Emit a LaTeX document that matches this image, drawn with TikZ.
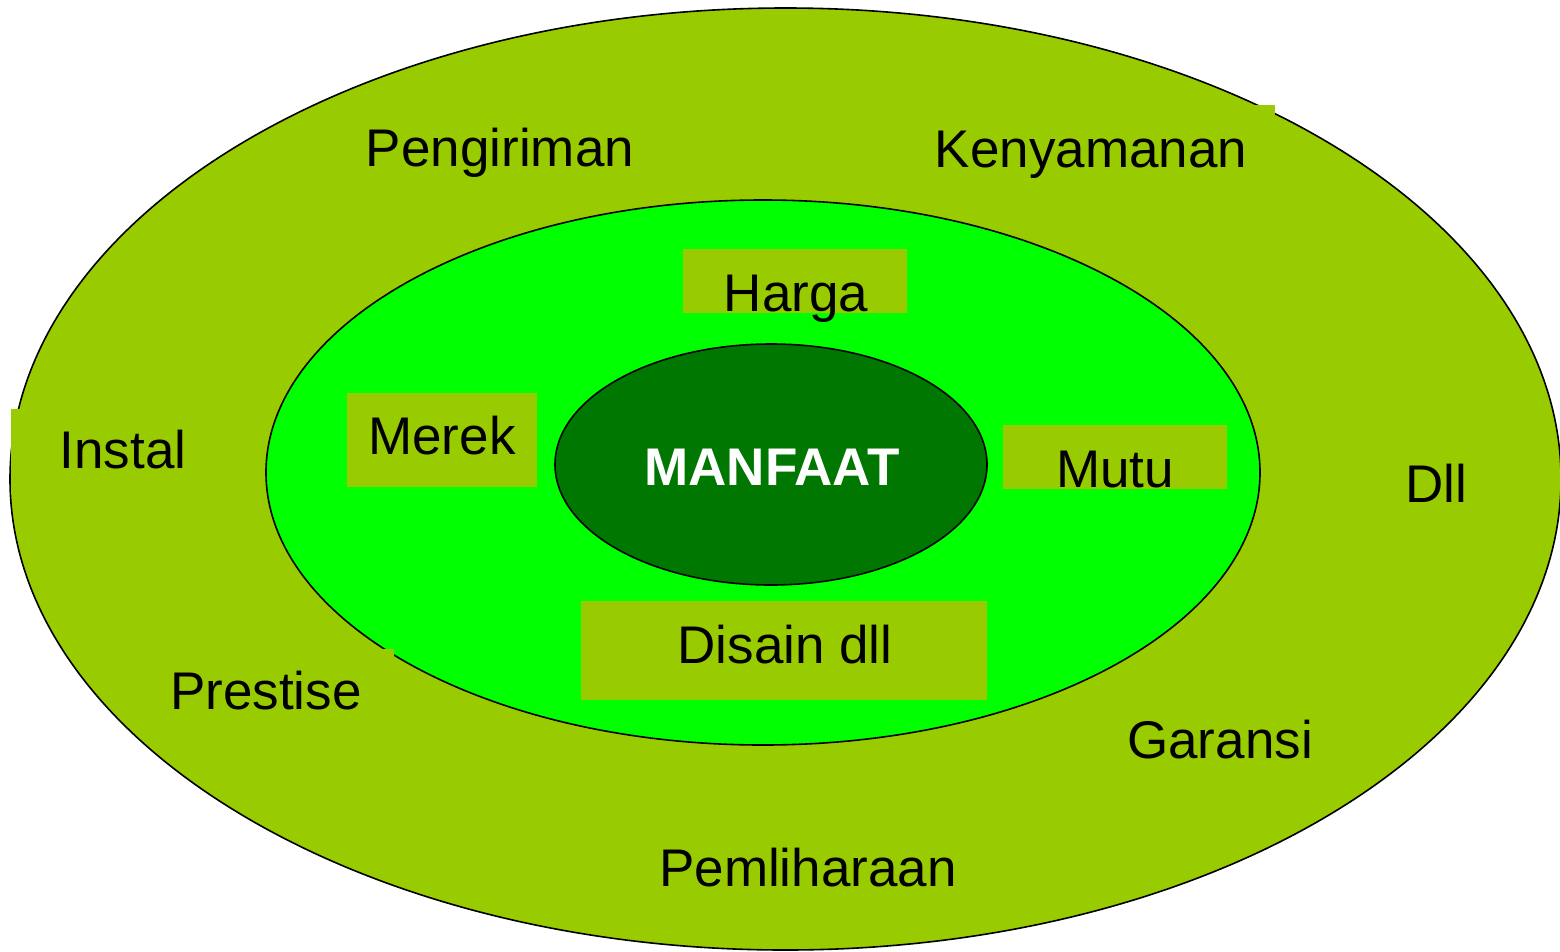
\documentclass[tikz,border=0pt]{standalone}
\usepackage{fontspec}
\setmainfont{Liberation Sans}
\usetikzlibrary{shapes.geometric}
\definecolor{olivefill}{HTML}{99CC00}
\definecolor{limefill}{HTML}{00FF00}
\definecolor{darkfill}{HTML}{007700}
\begin{document}
\begin{tikzpicture}[x=1pt,y=-1pt,
  ring/.style={ellipse,draw=black,line width=1.6pt,inner sep=0pt,outer sep=0pt},
  lbl/.style={anchor=base,font=\fontsize{53}{60}\selectfont,inner sep=0pt,text=black},
  patch/.style={fill=olivefill,draw=none}]
\useasboundingbox (0,0) rectangle (1560,951);
\clip (0,0) rectangle (1560,951);
\fill[white] (0,0) rectangle (1560,951);
% ellipses
\node[ring,fill=olivefill,minimum width=1551pt,minimum height=942pt] (outer) at (785.5,479) {};
\node[ring,fill=limefill,minimum width=994pt,minimum height=545pt] (inner) at (763,472.5) {};
\node[ring,fill=darkfill,minimum width=432pt,minimum height=241pt] (core) at (771,464.5) {};
% outer label patches
\fill[patch] (925,105) rectangle (1275,190);
\fill[patch] (11,409) rectangle (200,495);
\fill[patch] (160,649) rectangle (394,725);
% inner label boxes
\fill[patch] (683,249) rectangle (907,313);
\fill[patch] (347,393) rectangle (537,487);
\fill[patch] (1003,425) rectangle (1227,489);
\fill[patch] (581,601) rectangle (987,700);
% texts
\node[lbl,text=white,font=\fontsize{53}{60}\selectfont\bfseries] (manfaat) at (772,485) {MANFAAT};
\node[lbl] (harga) at (796,311) {Harga};
\node[lbl] (merek) at (442,454) {Merek};
\node[lbl] (mutu) at (1115,487) {Mutu};
\node[lbl] (disain) at (785,663) {Disain dll};
\node[lbl] (pengiriman) at (500,166) {Pengiriman};
\node[lbl] (kenyamanan) at (1091,167) {Kenyamanan};
\node[lbl] (instal) at (123,468) {Instal};
\node[lbl] (dll) at (1436,502) {Dll};
\node[lbl] (prestise) at (266,709) {Prestise};
\node[lbl] (garansi) at (1220,758) {Garansi};
\node[lbl] (pemliharaan) at (808,886) {Pemliharaan};
\end{tikzpicture}
\end{document}
